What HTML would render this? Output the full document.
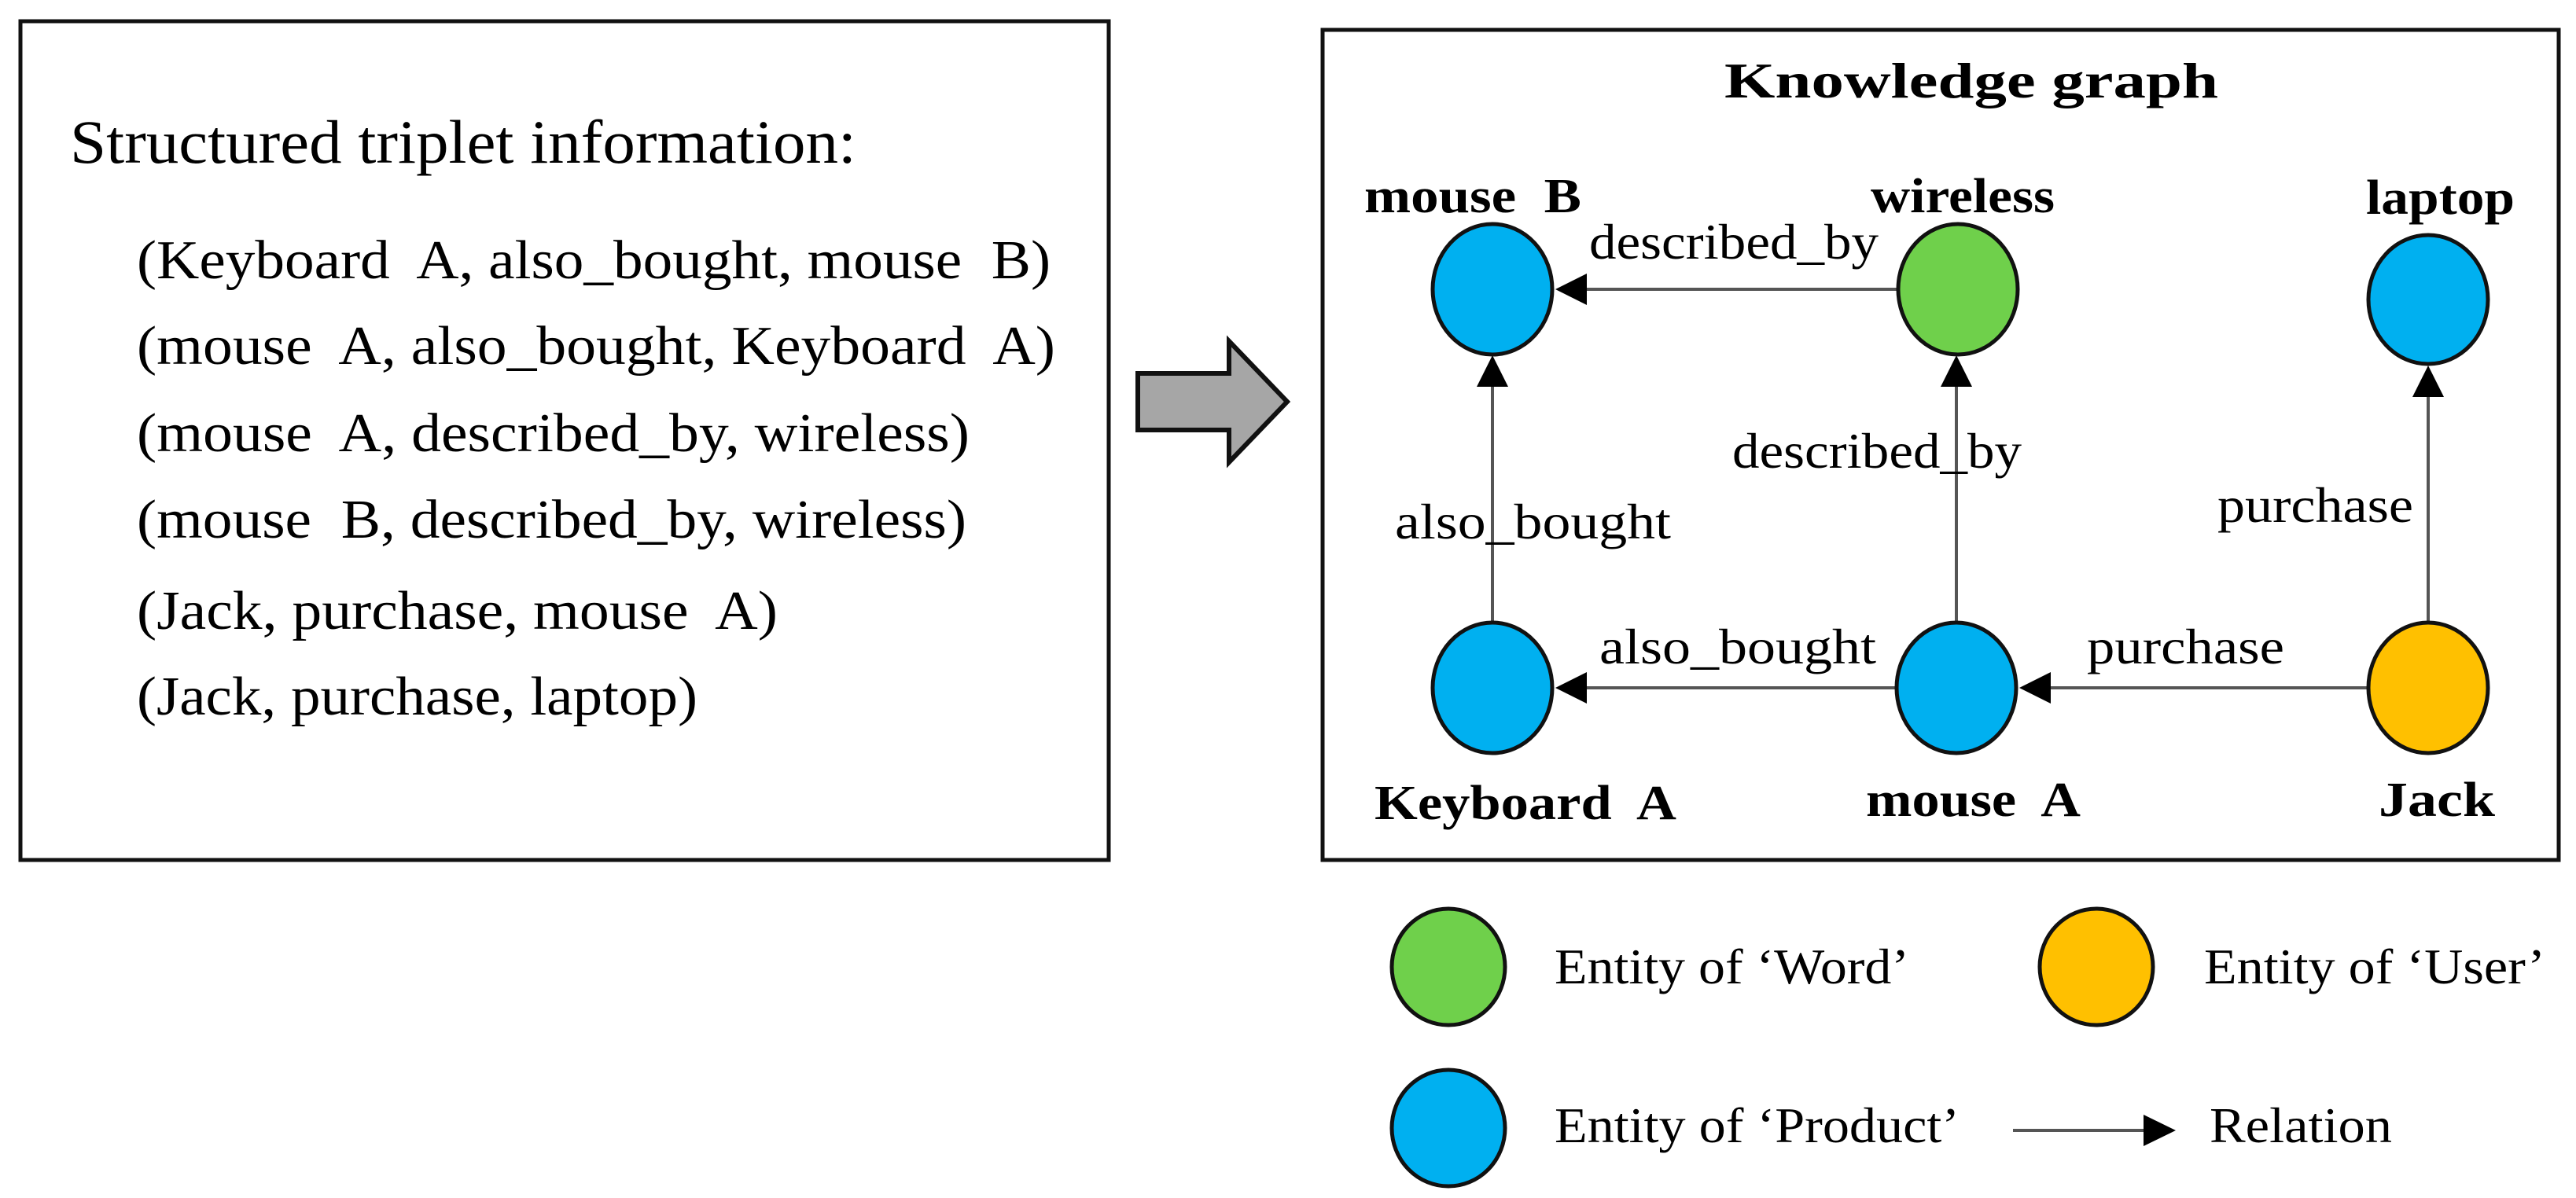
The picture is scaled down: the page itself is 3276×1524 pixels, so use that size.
<!DOCTYPE html>
<html><head><meta charset="utf-8"><style>
html,body{margin:0;padding:0;background:#fff;}
svg{display:block;}
text{font-family:"Liberation Serif",serif;fill:#000;white-space:pre;}
</style></head><body>
<svg width="3276" height="1524" viewBox="0 0 3276 1524" xmlns="http://www.w3.org/2000/svg">
<!-- left box -->
<rect x="26" y="27" width="1384" height="1067" fill="#fff" stroke="#111" stroke-width="5"/>
<text x="89" y="207" font-size="78" textLength="1000" lengthAdjust="spacingAndGlyphs">Structured triplet information:</text>
<g font-size="70">
<text x="174" y="354" textLength="1162" lengthAdjust="spacingAndGlyphs">(Keyboard  A, also_bought, mouse  B)</text>
<text x="174" y="463" textLength="1168" lengthAdjust="spacingAndGlyphs">(mouse  A, also_bought, Keyboard  A)</text>
<text x="174" y="574" textLength="1059" lengthAdjust="spacingAndGlyphs">(mouse  A, described_by, wireless)</text>
<text x="174" y="684" textLength="1055" lengthAdjust="spacingAndGlyphs">(mouse  B, described_by, wireless)</text>
<text x="174" y="800" textLength="815" lengthAdjust="spacingAndGlyphs">(Jack, purchase, mouse  A)</text>
<text x="174" y="909" textLength="713" lengthAdjust="spacingAndGlyphs">(Jack, purchase, laptop)</text>
</g>
<!-- block arrow -->
<polygon points="1447,475 1563,475 1563,434 1637,511 1563,588 1563,547 1447,547" fill="#a6a6a6" stroke="#111" stroke-width="6" stroke-linejoin="miter"/>
<!-- right box -->
<rect x="1682" y="38" width="1572" height="1056" fill="#fff" stroke="#111" stroke-width="5"/>
<text x="2507" y="124" font-size="64" font-weight="bold" text-anchor="middle" textLength="628" lengthAdjust="spacingAndGlyphs">Knowledge graph</text>
<!-- edges -->
<g stroke="#555" stroke-width="4">
<line x1="2412" y1="368" x2="2015" y2="368"/>
<line x1="1898" y1="792" x2="1898" y2="490"/>
<line x1="2488" y1="792" x2="2488" y2="490"/>
<line x1="3088" y1="792" x2="3088" y2="500"/>
<line x1="2410" y1="875" x2="2015" y2="875"/>
<line x1="3010" y1="875" x2="2605" y2="875"/>
<line x1="2560" y1="1438" x2="2730" y2="1438"/>
</g>
<g fill="#000">
<polygon points="1978,368 2018,348 2018,388"/>
<polygon points="1898,452 1878,492 1918,492"/>
<polygon points="2488,452 2468,492 2508,492"/>
<polygon points="3088,465 3068,505 3108,505"/>
<polygon points="1978,875 2018,855 2018,895"/>
<polygon points="2568,875 2608,855 2608,895"/>
<polygon points="2767,1438 2726,1418 2726,1458"/>
</g>
<!-- nodes -->
<g stroke="#111" stroke-width="5">
<ellipse cx="1898" cy="368" rx="76" ry="83" fill="#00b0f0"/>
<ellipse cx="2490" cy="368" rx="76" ry="83" fill="#6fd04b"/>
<ellipse cx="3088" cy="381" rx="76" ry="82" fill="#00b0f0"/>
<ellipse cx="1898" cy="875" rx="76" ry="83" fill="#00b0f0"/>
<ellipse cx="2488" cy="875" rx="76" ry="83" fill="#00b0f0"/>
<ellipse cx="3088" cy="875" rx="76" ry="83" fill="#ffc000"/>
<ellipse cx="1842" cy="1230" rx="72" ry="74" fill="#6fd04b"/>
<ellipse cx="2666" cy="1230" rx="72" ry="74" fill="#ffc000"/>
<ellipse cx="1842" cy="1435" rx="72" ry="74" fill="#00b0f0"/>
</g>
<!-- node labels -->
<g font-size="62" font-weight="bold">
<text x="1735" y="270" textLength="276" lengthAdjust="spacingAndGlyphs">mouse  B</text>
<text x="2379" y="270" textLength="234" lengthAdjust="spacingAndGlyphs">wireless</text>
<text x="3009" y="272" textLength="189" lengthAdjust="spacingAndGlyphs">laptop</text>
<text x="1748" y="1042" textLength="384" lengthAdjust="spacingAndGlyphs">Keyboard  A</text>
<text x="2373" y="1038" textLength="273" lengthAdjust="spacingAndGlyphs">mouse  A</text>
<text x="3025" y="1038" textLength="148" lengthAdjust="spacingAndGlyphs">Jack</text>
</g>
<!-- edge labels -->
<g font-size="64">
<text x="2021" y="329" textLength="368" lengthAdjust="spacingAndGlyphs">described_by</text>
<text x="2203" y="595" textLength="368" lengthAdjust="spacingAndGlyphs">described_by</text>
<text x="1774" y="685" textLength="351" lengthAdjust="spacingAndGlyphs">also_bought</text>
<text x="2034" y="844" textLength="352" lengthAdjust="spacingAndGlyphs">also_bought</text>
<text x="2654" y="844" textLength="251" lengthAdjust="spacingAndGlyphs">purchase</text>
<text x="2820" y="664" textLength="249" lengthAdjust="spacingAndGlyphs">purchase</text>
</g>
<!-- legend text -->
<g font-size="64">
<text x="1977" y="1251" textLength="451" lengthAdjust="spacingAndGlyphs">Entity of ‘Word’</text>
<text x="2803" y="1251" textLength="434" lengthAdjust="spacingAndGlyphs">Entity of ‘User’</text>
<text x="1977" y="1453" textLength="515" lengthAdjust="spacingAndGlyphs">Entity of ‘Product’</text>
<text x="2810" y="1453" textLength="232" lengthAdjust="spacingAndGlyphs">Relation</text>
</g>
</svg>
</body></html>
